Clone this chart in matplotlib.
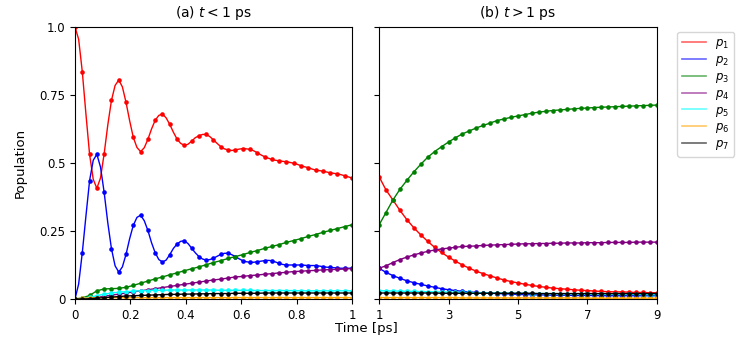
import numpy as np
import matplotlib.pyplot as plt
from matplotlib.lines import Line2D

# time grids (ps)
t_a = np.linspace(0, 1, 39)        # marker grid, panel (a)
t_a_line = np.linspace(0, 1, 77)   # finer grid for the oscillating p1, p2
t_b = np.linspace(1, 9, 41)

# populations, panel (a) t < 1 ps
# p1, p2 read on the finer grid (markers on every second point)
p1_a = [1.000, 0.955, 0.836, 0.680, 0.532, 0.440, 0.407, 0.445, 0.534, 0.640,
        0.730, 0.785, 0.805, 0.780, 0.723, 0.655, 0.594, 0.557, 0.542, 0.556,
        0.587, 0.625, 0.657, 0.675, 0.680, 0.666, 0.642, 0.613, 0.588, 0.572,
        0.565, 0.569, 0.580, 0.593, 0.600, 0.605, 0.605, 0.597, 0.585, 0.572,
        0.560, 0.552, 0.548, 0.546, 0.548, 0.551, 0.553, 0.552, 0.550, 0.545,
        0.538, 0.530, 0.523, 0.518, 0.513, 0.510, 0.508, 0.506, 0.505, 0.502,
        0.499, 0.495, 0.490, 0.486, 0.483, 0.478, 0.474, 0.472, 0.470, 0.467,
        0.464, 0.462, 0.460, 0.457, 0.453, 0.449, 0.445]
p2_a = [0.000, 0.055, 0.170, 0.305, 0.435, 0.510, 0.532, 0.485, 0.392, 0.280,
        0.185, 0.122, 0.099, 0.118, 0.164, 0.222, 0.271, 0.300, 0.308, 0.288,
        0.252, 0.207, 0.170, 0.145, 0.136, 0.143, 0.163, 0.186, 0.202, 0.212,
        0.214, 0.204, 0.187, 0.170, 0.156, 0.147, 0.143, 0.145, 0.150, 0.157,
        0.164, 0.168, 0.168, 0.163, 0.156, 0.148, 0.141, 0.137, 0.135, 0.135,
        0.137, 0.139, 0.141, 0.142, 0.141, 0.136, 0.131, 0.127, 0.125, 0.125,
        0.125, 0.125, 0.125, 0.124, 0.123, 0.123, 0.123, 0.121, 0.119, 0.117,
        0.116, 0.115, 0.114, 0.113, 0.113, 0.113, 0.113]
p3_a = [0.000, 0.004, 0.013, 0.030, 0.037, 0.038, 0.039, 0.043, 0.050, 0.058,
        0.066, 0.074, 0.081, 0.089, 0.096, 0.104, 0.111, 0.118, 0.126, 0.134,
        0.141, 0.149, 0.156, 0.163, 0.171, 0.178, 0.186, 0.193, 0.200, 0.208,
        0.215, 0.222, 0.230, 0.237, 0.245, 0.252, 0.259, 0.266, 0.273]
p4_a = [0.000, 0.001, 0.003, 0.006, 0.010, 0.014, 0.018, 0.022, 0.026, 0.030,
        0.034, 0.038, 0.042, 0.046, 0.050, 0.054, 0.058, 0.062, 0.066, 0.070,
        0.073, 0.077, 0.081, 0.083, 0.086, 0.088, 0.091, 0.093, 0.096, 0.098,
        0.101, 0.102, 0.104, 0.105, 0.107, 0.108, 0.109, 0.110, 0.112]
p5_a = [0.000, 0.002, 0.006, 0.012, 0.018, 0.022, 0.025, 0.027, 0.029, 0.030,
        0.031, 0.032, 0.032, 0.033, 0.033, 0.033, 0.033, 0.033, 0.033, 0.033,
        0.032, 0.032, 0.032, 0.032, 0.032, 0.031, 0.031, 0.031, 0.031, 0.031,
        0.031, 0.030, 0.030, 0.030, 0.030, 0.030, 0.030, 0.030, 0.030]
p6_a = [0.000, 0.002, 0.004, 0.005, 0.005, 0.005, 0.005, 0.005, 0.005, 0.005,
        0.005, 0.005, 0.005, 0.005, 0.005, 0.005, 0.005, 0.005, 0.005, 0.005,
        0.005, 0.005, 0.005, 0.005, 0.005, 0.005, 0.005, 0.005, 0.005, 0.005,
        0.005, 0.005, 0.005, 0.005, 0.005, 0.005, 0.005, 0.005, 0.005]
p7_a = [0.000, 0.000, 0.001, 0.003, 0.005, 0.007, 0.009, 0.011, 0.012, 0.013,
        0.014, 0.015, 0.016, 0.017, 0.017, 0.018, 0.018, 0.019, 0.019, 0.020,
        0.020, 0.020, 0.021, 0.021, 0.021, 0.021, 0.022, 0.022, 0.022, 0.022,
        0.022, 0.022, 0.022, 0.022, 0.022, 0.022, 0.022, 0.022, 0.022]

# populations, panel (b) t > 1 ps
p1_b = [0.450, 0.401, 0.364, 0.326, 0.292, 0.262, 0.236, 0.212, 0.190, 0.171,
        0.154, 0.139, 0.125, 0.113, 0.102, 0.093, 0.085, 0.077, 0.070, 0.064,
        0.059, 0.054, 0.050, 0.046, 0.043, 0.040, 0.038, 0.036, 0.034, 0.032,
        0.031, 0.029, 0.028, 0.027, 0.026, 0.026, 0.025, 0.024, 0.024, 0.023,
        0.023]
p2_b = [0.113, 0.098, 0.086, 0.076, 0.067, 0.060, 0.054, 0.048, 0.043, 0.038,
        0.034, 0.031, 0.028, 0.026, 0.024, 0.022, 0.021, 0.020, 0.019, 0.018,
        0.017, 0.016, 0.016, 0.015, 0.015, 0.014, 0.014, 0.014, 0.013, 0.013,
        0.013, 0.013, 0.012, 0.012, 0.012, 0.012, 0.012, 0.012, 0.012, 0.012,
        0.012]
p3_b = [0.272, 0.318, 0.364, 0.403, 0.436, 0.467, 0.495, 0.521, 0.542, 0.560,
        0.577, 0.593, 0.607, 0.618, 0.629, 0.638, 0.647, 0.656, 0.662, 0.668,
        0.673, 0.678, 0.683, 0.687, 0.690, 0.693, 0.695, 0.697, 0.699, 0.701,
        0.702, 0.704, 0.705, 0.706, 0.707, 0.708, 0.709, 0.710, 0.711, 0.712,
        0.713]
p4_b = [0.113, 0.122, 0.134, 0.145, 0.154, 0.162, 0.169, 0.175, 0.180, 0.184,
        0.187, 0.190, 0.193, 0.194, 0.195, 0.197, 0.198, 0.199, 0.200, 0.201,
        0.202, 0.203, 0.203, 0.204, 0.204, 0.205, 0.205, 0.206, 0.206, 0.206,
        0.207, 0.207, 0.207, 0.208, 0.208, 0.208, 0.208, 0.209, 0.209, 0.209,
        0.209]
p5_b = [0.030, 0.030, 0.029, 0.029, 0.028, 0.028, 0.027, 0.027, 0.026, 0.026,
        0.025, 0.025, 0.024, 0.024, 0.023, 0.023, 0.022, 0.022, 0.022, 0.021,
        0.021, 0.021, 0.020, 0.020, 0.020, 0.019, 0.019, 0.019, 0.019, 0.018,
        0.018, 0.018, 0.018, 0.017, 0.017, 0.017, 0.017, 0.017, 0.016, 0.016,
        0.016]
p6_b = [0.005, 0.005, 0.005, 0.005, 0.005, 0.005, 0.005, 0.005, 0.005, 0.005,
        0.005, 0.005, 0.004, 0.004, 0.004, 0.004, 0.004, 0.004, 0.004, 0.004,
        0.004, 0.004, 0.004, 0.004, 0.004, 0.004, 0.004, 0.004, 0.004, 0.004,
        0.003, 0.003, 0.003, 0.003, 0.003, 0.003, 0.003, 0.003, 0.003, 0.003,
        0.003]
p7_b = [0.022, 0.022, 0.022, 0.022, 0.022, 0.022, 0.022, 0.022, 0.022, 0.021,
        0.021, 0.021, 0.021, 0.021, 0.021, 0.021, 0.021, 0.021, 0.021, 0.021,
        0.021, 0.021, 0.021, 0.020, 0.020, 0.020, 0.020, 0.020, 0.020, 0.020,
        0.020, 0.020, 0.020, 0.020, 0.020, 0.020, 0.020, 0.020, 0.020, 0.020,
        0.020]

labels = ['$p_1$', '$p_2$', '$p_3$', '$p_4$', '$p_5$', '$p_6$', '$p_7$']
colors = ['red', 'blue', 'green', 'purple', 'cyan', 'orange', 'black']
series_a = [p1_a, p2_a, p3_a, p4_a, p5_a, p6_a, p7_a]
series_b = [p1_b, p2_b, p3_b, p4_b, p5_b, p6_b, p7_b]

plt.rcParams['font.size'] = 8.5

fig = plt.figure(figsize=(7.47, 3.4), dpi=100)
ax1 = fig.add_axes([0.1004, 0.1206, 0.3708, 0.8])
ax2 = fig.add_axes([0.5074, 0.1206, 0.3721, 0.8], sharey=ax1)

for y, c in zip(series_a, colors):
    if len(y) == len(t_a_line):
        ax1.plot(t_a_line, y, color=c, lw=1.0, marker='o', ms=3.3, mew=0,
                 markevery=2)
    else:
        ax1.plot(t_a, y, color=c, lw=1.0, marker='o', ms=3.3, mew=0)
for y, c in zip(series_b, colors):
    ax2.plot(t_b, y, color=c, lw=1.0, marker='o', ms=3.3, mew=0)

ax1.set_xlim(0, 1)
ax1.set_ylim(0, 1)
ax1.set_xticks([0, 0.2, 0.4, 0.6, 0.8, 1])
ax1.set_xticklabels(['0', '0.2', '0.4', '0.6', '0.8', '1'])
ax1.set_yticks([0, 0.25, 0.5, 0.75, 1.0])
ax1.set_yticklabels(['0', '0.25', '0.5', '0.75', '1.0'])
ax1.set_ylabel('Population', fontsize=9.5, labelpad=9)
ax1.set_title('(a) $t < 1$ ps', fontsize=10, pad=7)

ax2.set_xlim(1, 9)
ax2.set_xticks([1, 3, 5, 7, 9])
ax2.set_xticklabels(['1', '3', '5', '7', '9'])
ax2.tick_params(labelleft=False)
ax2.set_title('(b) $t > 1$ ps', fontsize=10, pad=7)

fig.text(0.49, 0.033, 'Time [ps]', ha='center', va='center', fontsize=9.5)

handles = [Line2D([], [], color=c, lw=1.2, alpha=0.6) for c in colors]
fig.legend(handles, labels, loc='upper left', bbox_to_anchor=(0.899, 0.924),
           fontsize=8.5, handlelength=2.0, labelspacing=0.15)

fig.savefig('out.png', dpi=100)
